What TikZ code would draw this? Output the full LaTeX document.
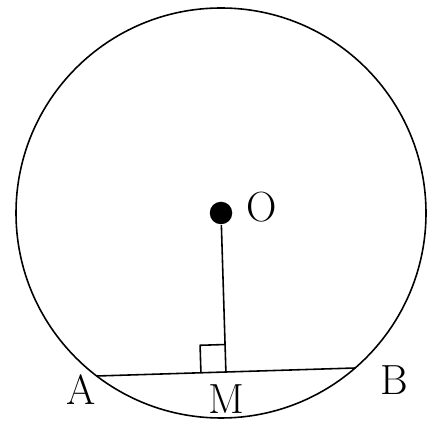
\documentclass[tikz,border=0pt]{standalone}
\usetikzlibrary{calc}

\begin{document}
\begin{tikzpicture}[x=0.02cm, y=-0.02cm, line width=0.9pt,
    lbl/.style={font=\fontsize{24}{28}\selectfont, inner sep=0pt},
    dot/.style={circle, fill, inner sep=0pt, minimum size=0.45cm}]
  \useasboundingbox (0,0) rectangle (429,421);
  % ---- circle and centre ----
  \node[dot] (O) at (221,213) {};
  \draw (O.center) circle (205);
  % ---- chord AB and foot M ----
  \coordinate (A) at (96.7,376);
  \coordinate (B) at (355.2,368);
  \coordinate (M) at ($(A)!(O.center)!(B)$);
  \draw (A) -- (B);
  \draw (O) -- (M);
  % ---- right angle mark ----
  \coordinate (Mu) at ($(M)!0.55cm!(O.center)$);
  \coordinate (Ml) at ($(M)!0.5cm!(A)$);
  \draw (Mu) -- ($(Mu)+(Ml)-(M)$) -- (Ml);
  % ---- labels ----
  \node[lbl] (lO) at (262,207) {O};
  \node[lbl] (lA) at (81,390) {A};
  \node[lbl] (lM) at (226,399) {M};
  \node[lbl] (lB) at (394,380) {B};
\end{tikzpicture}
\end{document}
